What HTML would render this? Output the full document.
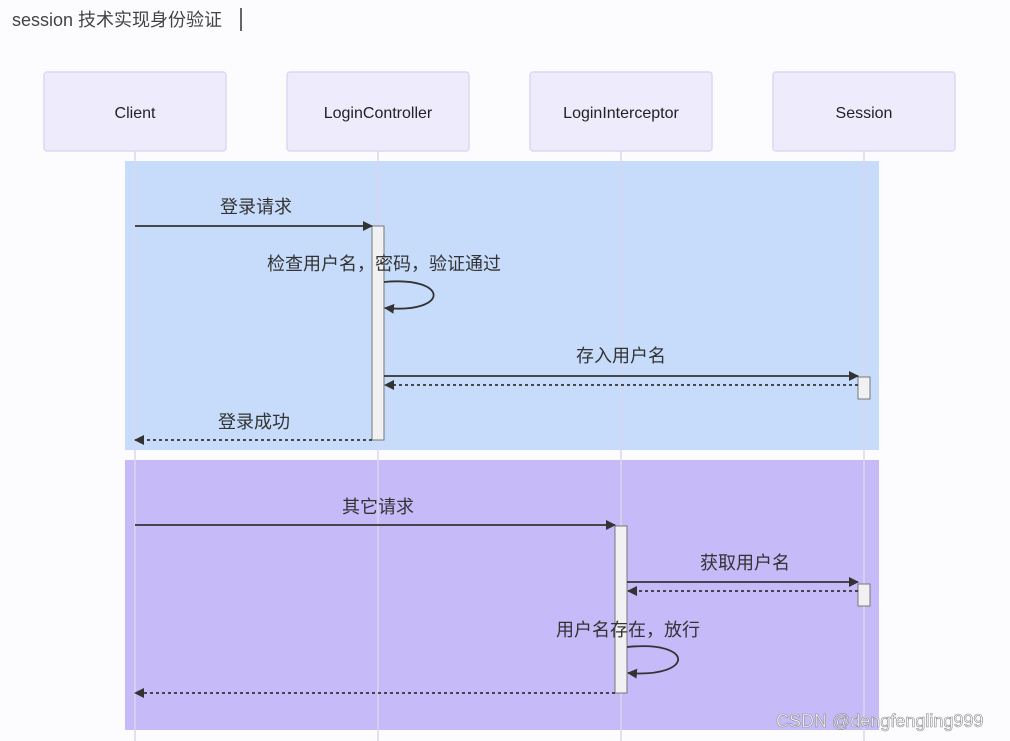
<!DOCTYPE html>
<html><head><meta charset="utf-8"><style>
html,body{margin:0;padding:0;background:#fcfcfe;}
svg{display:block;font-family:"Liberation Sans","Noto Sans CJK SC",sans-serif;}
</style></head><body>
<svg width="1010" height="741" viewBox="0 0 1010 741" xmlns="http://www.w3.org/2000/svg">
<defs>
<marker id="a" markerWidth="10" markerHeight="10" refX="9" refY="5" orient="auto" markerUnits="userSpaceOnUse"><path d="M0,0 L10,5 L0,10 z" fill="#333"/></marker>
</defs>
<rect width="1010" height="741" fill="#fcfcfe"/>
<text x="12" y="26" font-size="18" fill="#444">session 技术实现身份验证</text>
<line x1="241" y1="8" x2="241" y2="31" stroke="#333" stroke-width="1.5"/>
<rect x="125" y="161" width="754" height="289" fill="#c7dcfb"/>
<rect x="125" y="460" width="754" height="270" fill="#c6baf9"/>
<g stroke="#dcd6ee" stroke-width="1.5">
<line x1="135" y1="151" x2="135" y2="741"/><line x1="378" y1="151" x2="378" y2="741"/>
<line x1="621" y1="151" x2="621" y2="741"/><line x1="864" y1="151" x2="864" y2="741"/>
</g>
<g fill="#eeebfc" stroke="#dcd8f2" stroke-width="1.5">
<rect x="44" y="72" width="182" height="79" rx="3"/><rect x="287" y="72" width="182" height="79" rx="3"/>
<rect x="530" y="72" width="182" height="79" rx="3"/><rect x="773" y="72" width="182" height="79" rx="3"/>
</g>
<g font-size="16" fill="#222" text-anchor="middle">
<text x="135" y="118">Client</text><text x="378" y="118">LoginController</text>
<text x="621" y="118">LoginInterceptor</text><text x="864" y="118">Session</text>
</g>
<g fill="#f1f1f3" stroke="#777" stroke-width="1">
<rect x="372" y="226" width="12" height="214"/><rect x="858" y="377" width="12" height="22"/>
<rect x="615" y="526" width="12" height="167"/><rect x="858" y="584" width="12" height="22"/>
</g>
<g stroke="#333" stroke-width="1.8" fill="none">
<line x1="135" y1="226" x2="372" y2="226" marker-end="url(#a)"/>
<path d="M384,282 C450,276 450,314 385,308" marker-end="url(#a)"/>
<line x1="384" y1="376" x2="858" y2="376" marker-end="url(#a)"/>
<line x1="858" y1="385" x2="385" y2="385" stroke-dasharray="3,3" marker-end="url(#a)"/>
<line x1="372" y1="440" x2="135" y2="440" stroke-dasharray="3,3" marker-end="url(#a)"/>
<line x1="135" y1="525" x2="615" y2="525" marker-end="url(#a)"/>
<line x1="627" y1="582" x2="858" y2="582" marker-end="url(#a)"/>
<line x1="858" y1="591" x2="628" y2="591" stroke-dasharray="3,3" marker-end="url(#a)"/>
<path d="M627,647 C695,640 695,678 628,673" marker-end="url(#a)"/>
<line x1="615" y1="693" x2="135" y2="693" stroke-dasharray="3,3" marker-end="url(#a)"/>
</g>
<g font-size="18" fill="#333" text-anchor="middle">
<text x="256" y="213">登录请求</text>
<text x="384" y="270">检查用户名，密码，验证通过</text>
<text x="621" y="362">存入用户名</text>
<text x="254" y="428">登录成功</text>
<text x="378" y="513">其它请求</text>
<text x="745" y="569">获取用户名</text>
<text x="628" y="636">用户名存在，放行</text>
</g>
<text x="776" y="727" font-size="18" fill="#fff" stroke="#888" stroke-width="0.6">CSDN @dengfengling999</text>
</svg>
</body></html>
